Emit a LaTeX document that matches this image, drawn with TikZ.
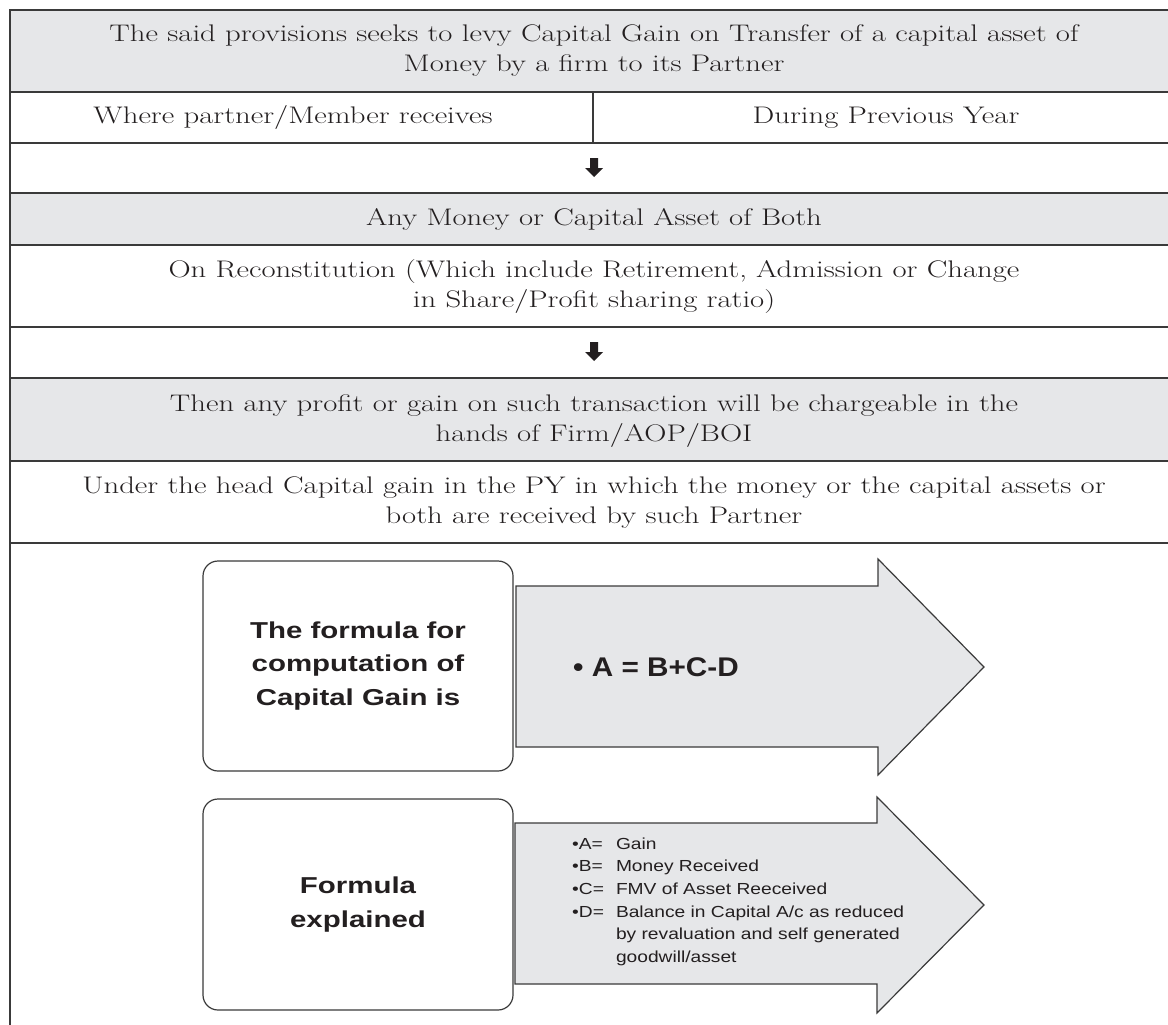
\documentclass[tikz,border=0pt]{standalone}
\usepackage{fontspec}
\usepackage{graphicx}
\newfontfamily\sansf{Liberation Sans}[FakeStretch=1.28]
\newfontfamily\sanseq{Liberation Sans}[FakeStretch=1.1]
\newfontfamily\sanslist{Liberation Sans}[FakeStretch=1.2]
\newcommand\mytabfont{\fontsize{24}{30}\selectfont}
\newcommand\wide[1]{\scalebox{1.28}[1]{\begin{tabular}{@{}c@{}}#1\end{tabular}}}
\newcommand\myboxfont{\sansf\bfseries\fontsize{23}{33.5}\selectfont}
\newcommand\myeqfont{\sanseq\bfseries\fontsize{27}{30}\selectfont}
\newcommand\mylistfont{\sanslist\fontsize{16}{22.7}\selectfont}
\definecolor{cellgray}{HTML}{E6E7E9}
\definecolor{ink}{HTML}{231F20}
\definecolor{rule}{HTML}{3A3A3A}
\tikzset{
  tabtext/.style={align=center, text=ink, inner sep=0pt, font=\mytabfont},
  rowline/.style={draw=rule, line width=1.3pt},
  roundbox/.style={draw=rule, line width=1.2pt, rounded corners=15pt, fill=white, minimum width=310pt, inner sep=0pt, align=center, text=ink, font=\myboxfont},
  bigarrow/.style={draw=rule, line width=1.2pt, fill=cellgray},
}
\begin{document}
\begin{tikzpicture}[x=1pt,y=-1pt]
\useasboundingbox (0,0) rectangle (1168,1025);
% gray rows
\fill[cellgray] (10,10) rectangle (1168,92);
\fill[cellgray] (10,193) rectangle (1168,245);
\fill[cellgray] (10,378) rectangle (1168,461);
% horizontal rules
\foreach \yy in {10,92,143,193,245,327,378,461,543} \draw[rowline] (9,\yy) -- (1168,\yy);
\draw[rowline] (10,10) -- (10,1025);
\draw[rowline] (593,92) -- (593,143);
% texts
\node[tabtext] (r1) at (594,51) {\wide{The said provisions seeks to levy Capital Gain on Transfer of a capital asset of\\ Money by a firm to its Partner}};
\node[tabtext] (r2a) at (293,118) {\wide{Where partner/Member receives}};
\node[tabtext] (r2b) at (886,118) {\wide{During Previous Year}};
\coordinate (d1) at (594,168);
\fill[ink] (d1) ++(-4,-10) -- ++(8,0) -- ++(0,10) -- ++(5,0) -- ++(-9,9) -- ++(-9,-9) -- ++(5,0) -- cycle;
\node[tabtext] (r4) at (594,219) {\wide{Any Money or Capital Asset of Both}};
\node[tabtext] (r5) at (594,286) {\wide{On Reconstitution (Which include Retirement, Admission or Change\\ in Share/Profit sharing ratio)}};
\coordinate (d2) at (594,352);
\fill[ink] (d2) ++(-4,-10) -- ++(8,0) -- ++(0,10) -- ++(5,0) -- ++(-9,9) -- ++(-9,-9) -- ++(5,0) -- cycle;
\node[tabtext] (r7) at (594,420) {\wide{Then any profit or gain on such transaction will be chargeable in the\\ hands of Firm/AOP/BOI}};
\node[tabtext] (r8) at (594,502) {\wide{Under the head Capital gain in the PY in which the money or the capital assets or\\ both are received by such Partner}};
% lower part
\draw[bigarrow] (516,586) -- (878,586) -- (878,559) -- (984,667) -- (878,775) -- (878,747) -- (516,747) -- cycle;
\node[roundbox, minimum height=210pt] (f1) at (358,666) {The formula for\\ computation of\\ Capital Gain is};
\node[text=ink, font=\myeqfont, anchor=west, inner sep=0pt] (eq) at (573,667) {\textbullet\ A = B+C-D};
\draw[bigarrow] (515,823) -- (877,823) -- (877,797) -- (984,905) -- (877,1013) -- (877,984) -- (515,984) -- cycle;
\node[roundbox, minimum height=211pt] (f2) at (358,904.5) {Formula\\ explained};
\node[anchor=north west, inner sep=0pt, text=ink, font=\mylistfont] (lst) at (572,833) {\begin{tabular}{@{}l@{\hspace{12pt}}l@{}}
\textbullet A= & Gain\\
\textbullet B= & Money Received\\
\textbullet C= & FMV of Asset Reeceived\\
\textbullet D= & Balance in Capital A/c as reduced\\
 & by revaluation and self generated\\
 & goodwill/asset
\end{tabular}};
\end{tikzpicture}
\end{document}
